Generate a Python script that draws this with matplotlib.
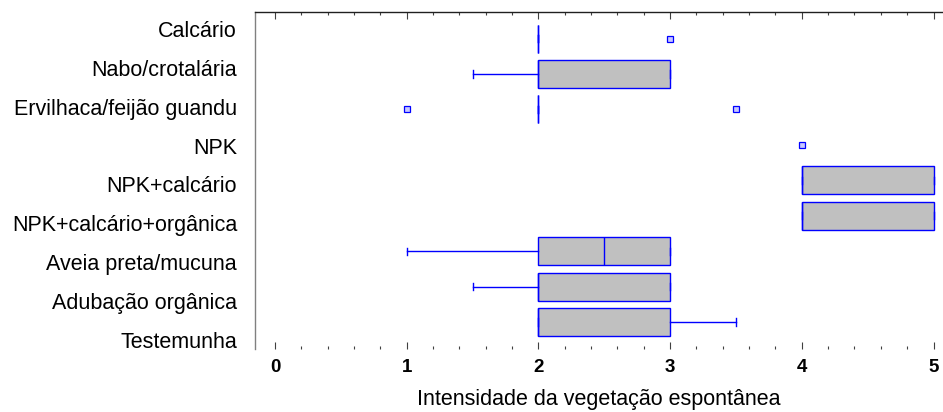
import matplotlib
matplotlib.use("Agg")
import matplotlib.pyplot as plt
from matplotlib.ticker import MultipleLocator, FixedLocator

# ---- data ----
categories = ['Calcário', 'Nabo/crotalária', 'Ervilhaca/feijão guandu', 'NPK',
              'NPK+calcário', 'NPK+calcário+orgânica', 'Aveia preta/mucuna',
              'Adubação orgânica', 'Testemunha']
q1 = [2, 2, 2, 4, 4, 4, 2, 2, 2]
median = [2, 2, 2, 4, 4, 4, 2.5, 2, 2]
q3 = [2, 3, 2, 4, 5, 5, 3, 3, 3]
whisker_low = [2, 1.5, 2, 4, 4, 4, 1, 1.5, 2]
whisker_high = [2, 3, 2, 4, 5, 5, 3, 3, 3.5]
outliers = [[3], [], [1, 3.5], [4], [], [], [], [], []]
xticks = [0, 1, 2, 3, 4, 5]
xlabel = 'Intensidade da vegetação espontânea'

txt_family = ['Liberation Sans', 'DejaVu Sans']
txt_size = 15.5

fig = plt.figure(figsize=(9.43, 4.12), dpi=100)
W, H = 943.0, 412.0
left_px, top_px, bottom_px = 254.7, 11.7, 349.0
ax = fig.add_axes([left_px / W, 1 - bottom_px / H, 1 - left_px / W,
                   (bottom_px - top_px) / H])

stats = []
for i in range(len(categories)):
    stats.append(dict(med=median[i], q1=q1[i], q3=q3[i], whislo=whisker_low[i],
                      whishi=whisker_high[i], fliers=outliers[i], label=categories[i]))

blue = '#0000ff'
kw = dict(positions=list(range(len(categories))), widths=0.79, patch_artist=True,
          capwidths=0.2,
          boxprops=dict(facecolor='#c0c0c0', edgecolor=blue, linewidth=1.0),
          medianprops=dict(color=blue, linewidth=1.0),
          whiskerprops=dict(color=blue, linewidth=1.0),
          capprops=dict(color=blue, linewidth=1.0),
          flierprops=dict(marker='s', markersize=3.8, markerfacecolor='#c8c8ff',
                          markeredgecolor=blue, markeredgewidth=0.9, linestyle='none'))
try:
    bp = ax.bxp(stats, orientation='horizontal', **kw)
except TypeError:
    bp = ax.bxp(stats, vert=False, **kw)

# NPK: only the outlier symbol is shown in the original
k = categories.index('NPK')
bp['boxes'][k].set_visible(False)
bp['medians'][k].set_visible(False)
for art in bp['caps'][2 * k:2 * k + 2] + bp['whiskers'][2 * k:2 * k + 2]:
    art.set_visible(False)

ax.set_xlim(-0.154, 5.072)
ax.set_ylim(8.763, -0.76)

ax.xaxis.set_major_locator(FixedLocator(xticks))
ax.xaxis.set_minor_locator(MultipleLocator(0.2))
ax.set_yticks([])
ax.tick_params(axis='x', which='both', direction='in', top=True, bottom=True,
               labeltop=False, labelbottom=True, color='#404040', width=0.8)
ax.tick_params(axis='x', which='major', length=5, pad=7.0)
ax.tick_params(axis='x', which='minor', length=2)
ax.set_xticklabels([str(t) for t in xticks], fontfamily=txt_family,
                   fontweight='bold', fontsize=13.5)

for s in ('right', 'bottom'):
    ax.spines[s].set_visible(False)
ax.spines['top'].set_color('#202020')
ax.spines['top'].set_linewidth(1.0)
ax.spines['left'].set_color('#808080')
ax.spines['left'].set_linewidth(1.0)

ax.set_xlabel(xlabel, fontfamily=txt_family, fontsize=txt_size, labelpad=9.5)

# category labels (their spacing differs slightly from the box spacing)
lab_top, lab_bot = 29.3 - 19.39, 339.5 + 19.39
axl = fig.add_axes([left_px / W, 1 - lab_bot / H, 0.01, (lab_bot - lab_top) / H])
axl.set_ylim(len(categories) - 0.5, -0.5)
axl.set_yticks(list(range(len(categories))))
axl.set_yticklabels(categories, fontfamily=txt_family, fontsize=txt_size)
axl.tick_params(axis='y', length=0, pad=12.7)
axl.set_xticks([])
for s in axl.spines.values():
    s.set_visible(False)
axl.patch.set_visible(False)

fig.savefig('out.png', dpi=100)
